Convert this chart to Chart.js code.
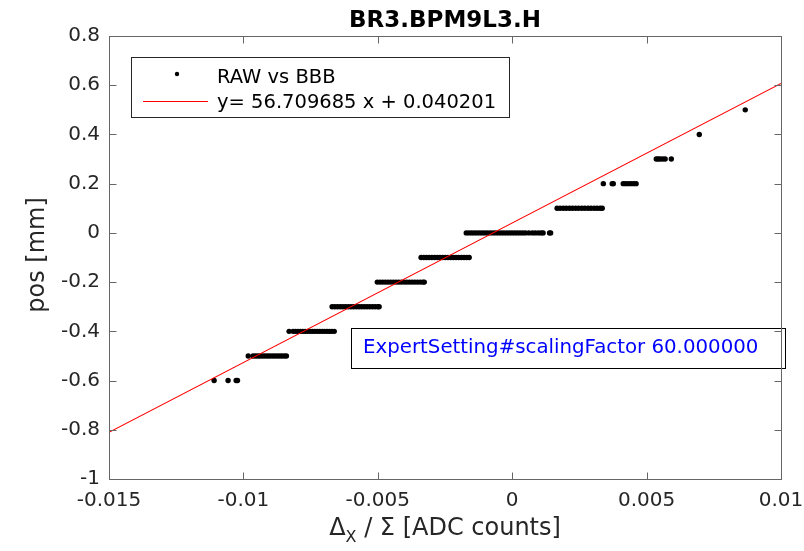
<!DOCTYPE html>
<html>
<head>
<meta charset="utf-8">
<script src="https://cdn.jsdelivr.net/npm/chart.js"></script>
<style>
  html,body{margin:0;padding:0;background:#fff}
  #wrap{width:804px;height:551px}
</style>
</head>
<body>
<div id="wrap"><canvas id="c" width="804" height="551"></canvas></div>
<script>
/* =====  data  ===== */
const chartTitle = 'BR3.BPM9L3.H';
const yTitle = 'pos [mm]';
const xTicks = [-0.015, -0.01, -0.005, 0, 0.005, 0.01];
const yTicks = [-1, -0.8, -0.6, -0.4, -0.2, 0, 0.2, 0.4, 0.6, 0.8];

// fit from the legend
const fitSlope = 56.709685;
const fitOffset = 0.040201;
const fitRange = [-0.015, 0.01];

// raw points, grouped by position level (mm)
const posLevels = [-0.6, -0.5, -0.4, -0.3, -0.2, -0.1, 0, 0.1, 0.2, 0.3, 0.4, 0.5];
const rawM06 = [-0.01109, -0.01057, -0.01027, -0.01022];
const rawM05 = [-0.00982, -0.00964, -0.00955, -0.00946, -0.00938, -0.00929, -0.00920, -0.00911, -0.00902,
                -0.00893, -0.00884, -0.00875, -0.00866, -0.00857, -0.00848, -0.00840];
const rawM04 = [-0.00830, -0.00815, -0.00806, -0.00797, -0.00788, -0.00779, -0.00770, -0.00761, -0.00752,
                -0.00743, -0.00734, -0.00725, -0.00716, -0.00707, -0.00698, -0.00689, -0.00680, -0.00671, -0.00662];
const rawM03 = [-0.00670, -0.00660, -0.00650, -0.00640, -0.00630, -0.00620, -0.00610, -0.00600, -0.00590,
                -0.00580, -0.00570, -0.00560, -0.00550, -0.00540, -0.00530, -0.00520, -0.00510, -0.00500, -0.00495];
const rawM02 = [-0.00502, -0.00492, -0.00482, -0.00472, -0.00462, -0.00452, -0.00442, -0.00432, -0.00422,
                -0.00412, -0.00402, -0.00392, -0.00382, -0.00372, -0.00362, -0.00352, -0.00342, -0.00332, -0.00327];
const rawM01 = [-0.00339, -0.00329, -0.00319, -0.00309, -0.00299, -0.00289, -0.00279, -0.00269, -0.00259,
                -0.00249, -0.00239, -0.00229, -0.00219, -0.00209, -0.00199, -0.00189, -0.00179, -0.00169, -0.00160];
const rawZ00 = [-0.00171, -0.00161, -0.00151, -0.00141, -0.00131, -0.00121, -0.00111, -0.00101, -0.00091,
                -0.00081, -0.00071, -0.00061, -0.00051, -0.00041, -0.00031, -0.00021, -0.00011, -0.00001,
                0.00009, 0.00019, 0.00029, 0.00039, 0.00049, 0.00062, 0.00075, 0.00086, 0.00098, 0.00108,
                0.00115, 0.00139, 0.00143];
const rawP01 = [0.00167, 0.00178, 0.00190, 0.00201, 0.00213, 0.00224, 0.00236, 0.00247, 0.00259,
                0.00270, 0.00282, 0.00293, 0.00305, 0.00316, 0.00327, 0.00335];
const rawP02 = [0.00339, 0.00372, 0.00376, 0.00413, 0.00422, 0.00432, 0.00442, 0.00452, 0.00461];
const rawP03 = [0.00536, 0.00543, 0.00550, 0.00560, 0.00569, 0.00592];
const rawP04 = [0.00696];
const rawP05 = [0.00867];
const rawByLevel = [rawM06, rawM05, rawM04, rawM03, rawM02, rawM01, rawZ00, rawP01, rawP02, rawP03, rawP04, rawP05];

const noteText = 'ExpertSetting#scalingFactor 60.000000';

/* =====  build datasets  ===== */
const rawPoints = [];
rawByLevel.forEach((xs, i) => xs.forEach(x => rawPoints.push({x: x, y: posLevels[i]})));
const fitPoints = fitRange.map(x => ({x: x, y: fitSlope * x + fitOffset}));

const FONT = "'DejaVu Sans', sans-serif";
const AXIS = '#666666';
const TXT = '#262626';

/* =====  MATLAB-ish decorations  ===== */
const matlabLook = {
  id: 'matlabLook',
  afterDatasetsDraw(chart) {
    const {ctx, chartArea: a, scales: {x, y}} = chart;
    ctx.save();

    // annotation box
    ctx.fillStyle = '#fff';
    ctx.fillRect(351, 328, 434, 40);
    ctx.strokeStyle = '#000';
    ctx.lineWidth = 1;
    ctx.strokeRect(351.5, 328.5, 434, 40);
    ctx.fillStyle = '#0000ff';
    ctx.font = '19.8px ' + FONT;
    ctx.textAlign = 'left';
    ctx.textBaseline = 'alphabetic';
    ctx.fillText(noteText, 363, 353);

    // axes box + inward ticks
    ctx.strokeStyle = AXIS;
    ctx.lineWidth = 1;
    const L = Math.round(a.left) + 0.5, R = Math.round(a.right) + 0.5;
    const T = Math.round(a.top) + 0.5, B = Math.round(a.bottom) + 0.5;
    ctx.strokeRect(L, T, R - L, B - T);
    ctx.beginPath();
    xTicks.forEach(v => {
      const px = Math.round(x.getPixelForValue(v)) + 0.5;
      ctx.moveTo(px, B); ctx.lineTo(px, B - 7);
      ctx.moveTo(px, T); ctx.lineTo(px, T + 7);
    });
    yTicks.forEach(v => {
      const py = Math.round(y.getPixelForValue(v)) + 0.5;
      ctx.moveTo(L, py); ctx.lineTo(L + 7, py);
      ctx.moveTo(R, py); ctx.lineTo(R - 7, py);
    });
    ctx.stroke();

    // legend, from the datasets
    const ds = chart.data.datasets;
    ctx.fillStyle = '#fff';
    ctx.fillRect(131, 57, 378, 60);
    ctx.strokeStyle = '#262626';
    ctx.strokeRect(131.5, 57.5, 378, 60);
    ctx.fillStyle = ds[0].backgroundColor;
    ctx.beginPath(); ctx.arc(177, 74, 2.2, 0, Math.PI * 2); ctx.fill();
    ctx.strokeStyle = ds[1].borderColor;
    ctx.beginPath(); ctx.moveTo(143, 101.5); ctx.lineTo(208, 101.5); ctx.stroke();
    ctx.fillStyle = '#000';
    ctx.font = '19.5px ' + FONT;
    ctx.fillText(ds[0].label, 217, 83);
    ctx.fillText(ds[1].label, 217, 108);

    // title
    ctx.fillStyle = '#000';
    ctx.font = 'bold 23px ' + FONT;
    ctx.textAlign = 'center';
    ctx.fillText(chartTitle, (a.left + a.right) / 2, 27);

    // y title
    ctx.fillStyle = TXT;
    ctx.font = '24px ' + FONT;
    ctx.save();
    ctx.translate(44, 255);
    ctx.rotate(-Math.PI / 2);
    ctx.fillText(yTitle, 0, 0);
    ctx.restore();

    // x title with subscript
    const part1 = '\u0394', sub = 'X', part2 = ' / \u03A3 [ADC counts]';
    ctx.textAlign = 'left';
    ctx.font = '24px ' + FONT;
    const w1 = ctx.measureText(part1).width, w3 = ctx.measureText(part2).width;
    ctx.font = '16px ' + FONT;
    const w2 = ctx.measureText(sub).width;
    let sx = (a.left + a.right) / 2 - (w1 + w2 + w3) / 2;
    ctx.font = '24px ' + FONT;
    ctx.fillText(part1, sx, 535); sx += w1;
    ctx.font = '16px ' + FONT;
    ctx.fillText(sub, sx, 542); sx += w2;
    ctx.font = '24px ' + FONT;
    ctx.fillText(part2, sx, 535);

    ctx.restore();
  }
};

const fmt = v => String(Number(v.toFixed(4)));

new Chart(document.getElementById('c'), {
  type: 'scatter',
  data: {
    datasets: [
      { label: 'RAW vs BBB', data: rawPoints, backgroundColor: '#000000', borderWidth: 0,
        pointRadius: 2.7, pointHoverRadius: 2.7, order: 2 },
      { type: 'line', label: 'y= 56.709685 x + 0.040201', data: fitPoints, borderColor: '#ff0000',
        borderWidth: 1.1, pointRadius: 0, fill: false, order: 1 }
    ]
  },
  options: {
    responsive: false,
    animation: false,
    events: [],
    layout: { padding: { top: 36, right: 23, left: 0, bottom: 0 } },
    plugins: { legend: { display: false }, tooltip: { enabled: false }, title: { display: false } },
    scales: {
      x: {
        type: 'linear', min: -0.015, max: 0.01,
        grid: { display: false, drawTicks: false },
        border: { display: false },
        afterBuildTicks: s => { s.ticks = xTicks.map(v => ({value: v})); },
        afterFit: s => { s.height = 72; s.paddingLeft = 0; s.paddingRight = 0; },
        ticks: { callback: fmt, color: TXT, font: { family: FONT, size: 20 }, padding: 10, maxRotation: 0, autoSkip: false }
      },
      y: {
        type: 'linear', min: -1, max: 0.8,
        grid: { display: false, drawTicks: false },
        border: { display: false },
        afterBuildTicks: s => { s.ticks = yTicks.map(v => ({value: v})); },
        afterFit: s => { s.width = 109; s.paddingTop = 0; s.paddingBottom = 0; },
        ticks: { callback: fmt, color: TXT, font: { family: FONT, size: 20 }, padding: 9, autoSkip: false }
      }
    }
  },
  plugins: [matlabLook]
});
</script>
</body>
</html>
